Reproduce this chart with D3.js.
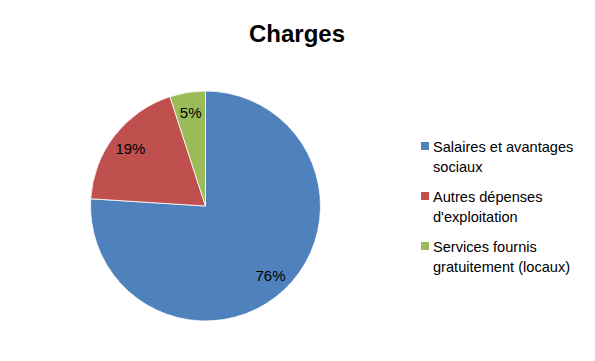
<!DOCTYPE html>
<html><head><meta charset="utf-8">
<script src="https://cdn.jsdelivr.net/npm/d3@7"></script>
<style>body{margin:0;background:#fff}svg{display:block}</style>
</head><body>
<svg id="c" width="595" height="361"></svg>
<script>
const categories = ["Salaires et avantages sociaux", "Autres dépenses d'exploitation", "Services fournis gratuitement (locaux)"];
const values = [76, 19, 5];
const legendLines = [["Salaires et avantages", "sociaux"], ["Autres dépenses", "d'exploitation"], ["Services fournis", "gratuitement (locaux)"]];
const colors = ["#4F81BD", "#C0504D", "#9BBB59"];
const title = "Charges";

const svg = d3.select("#c");
const font = "'Liberation Sans', Arial, sans-serif";
svg.append("rect").attr("width",595).attr("height",361).attr("fill","#fff");

svg.append("text").attr("x",297).attr("y",42).attr("text-anchor","middle")
  .attr("font-family",font).attr("font-weight","bold").attr("font-size",24).attr("fill","#000").text(title);

const cx = 205.5, cy = 206, R = 115;
const pie = d3.pie().sort(null).value(d=>d);
const arcs = pie(values);
const arc = d3.arc().innerRadius(0).outerRadius(R);
const labelArc = d3.arc().innerRadius(95).outerRadius(95);
const g = svg.append("g").attr("transform",`translate(${cx},${cy})`);
g.selectAll("path").data(arcs).enter().append("path")
  .attr("d",arc).attr("fill",(d,i)=>colors[i]).attr("stroke","#fff").attr("stroke-width",0.8);
g.selectAll("text").data(arcs).enter().append("text")
  .attr("transform",d=>`translate(${labelArc.centroid(d)})`)
  .attr("text-anchor","middle").attr("dy","0.4em")
  .attr("font-family",font).attr("font-size",15).attr("fill","#000")
  .text(d=>d.data+"%");

const lg = svg.append("g");
const ly = [142, 192, 242];
categories.forEach((c,i)=>{
  lg.append("rect").attr("x",421).attr("y",ly[i]).attr("width",8).attr("height",8).attr("fill",colors[i]);
  legendLines[i].forEach((t,j)=>{
    lg.append("text").attr("x",433).attr("y",ly[i]+9.5+j*20)
      .attr("font-family",font).attr("font-size",14.6).attr("fill","#000").text(t);
  });
});
</script>
</body></html>
